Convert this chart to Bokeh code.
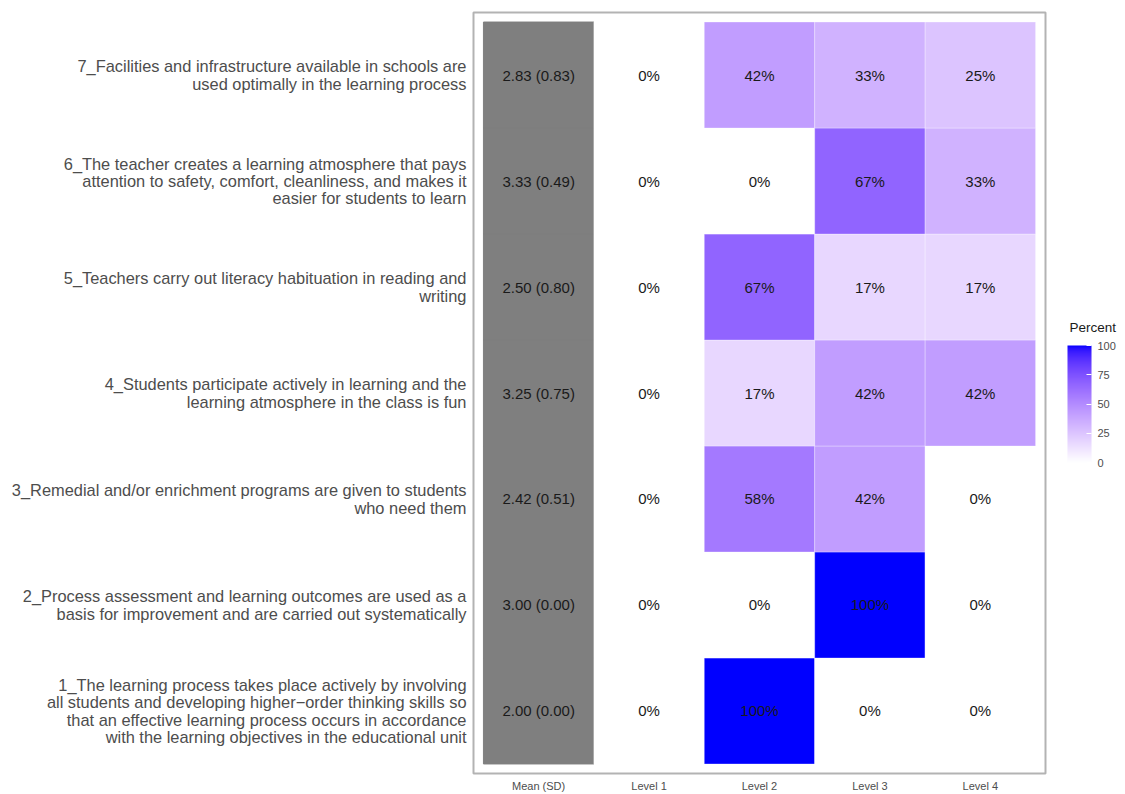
import numpy as np
from bokeh.plotting import figure
from bokeh.layouts import row
from bokeh.models import (ColumnDataSource, Range1d, FixedTicker, LinearColorMapper,
                          ColorBar)
from bokeh.embed import file_html
from bokeh.resources import INLINE

# ---------------- data ----------------
items = [
    "1_The learning process takes place actively by involving\nall students and developing higher\u2212order thinking skills so\nthat an effective learning process occurs in accordance\nwith the learning objectives in the educational unit",
    "2_Process assessment and learning outcomes are used as a\nbasis for improvement and are carried out systematically",
    "3_Remedial and/or enrichment programs are given to students\nwho need them",
    "4_Students participate actively in learning and the\nlearning atmosphere in the class is fun",
    "5_Teachers carry out literacy habituation in reading and\nwriting",
    "6_The teacher creates a learning atmosphere that pays\nattention to safety, comfort, cleanliness, and makes it\neasier for students to learn",
    "7_Facilities and infrastructure available in schools are\nused optimally in the learning process",
]
means = [2.00, 3.00, 2.42, 3.25, 2.50, 3.33, 2.83]
sds = [0.00, 0.00, 0.51, 0.75, 0.80, 0.49, 0.83]
level1 = [0, 0, 0, 0, 0, 0, 0]
level2 = [100, 0, 58, 17, 67, 0, 42]
level3 = [0, 100, 42, 42, 17, 67, 33]
level4 = [0, 0, 0, 42, 17, 33, 25]
columns = ["Mean (SD)", "Level 1", "Level 2", "Level 3", "Level 4"]
legend_title = "Percent"
legend_ticks = [0, 25, 50, 75, 100]

# ---------------- Lab colour interpolation (white -> blue) ----------------
def srgb_to_lab(rgb):
    c = np.array(rgb, dtype=float) / 255.0
    c = np.where(c <= 0.04045, c / 12.92, ((c + 0.055) / 1.055) ** 2.4)
    M = np.array([[0.4124564, 0.3575761, 0.1804375],
                  [0.2126729, 0.7151522, 0.0721750],
                  [0.0193339, 0.1191920, 0.9503041]])
    xyz = M @ c
    wp = np.array([0.95047, 1.0, 1.08883])
    t = xyz / wp
    f = np.where(t > (6 / 29) ** 3, np.cbrt(t), t / (3 * (6 / 29) ** 2) + 4 / 29)
    return np.array([116 * f[1] - 16, 500 * (f[0] - f[1]), 200 * (f[1] - f[2])])

def lab_to_hex(lab):
    L, a, b = lab
    fy = (L + 16) / 116
    fx = fy + a / 500
    fz = fy - b / 200
    def finv(f):
        return f ** 3 if f > 6 / 29 else 3 * (6 / 29) ** 2 * (f - 4 / 29)
    wp = np.array([0.95047, 1.0, 1.08883])
    xyz = np.array([finv(fx), finv(fy), finv(fz)]) * wp
    Minv = np.array([[3.2404542, -1.5371385, -0.4985314],
                     [-0.9692660, 1.8760108, 0.0415560],
                     [0.0556434, -0.2040259, 1.0572252]])
    lin = Minv @ xyz
    lin = np.clip(lin, 0, 1)
    c = np.where(lin <= 0.0031308, 12.92 * lin, 1.055 * lin ** (1 / 2.4) - 0.055)
    c = np.clip(np.round(c * 255), 0, 255).astype(int)
    return "#%02x%02x%02x" % tuple(c)

LAB_LO = srgb_to_lab((255, 255, 255))
LAB_HI = srgb_to_lab((0, 0, 255))

def pct_color(v):
    t = max(0.0, min(1.0, v / 100.0))
    return lab_to_hex(LAB_LO + (LAB_HI - LAB_LO) * t)

palette = [pct_color(100.0 * i / 255) for i in range(256)]

# ---------------- build tile table ----------------
n = len(items)
row_y = [i + 0.5 for i in range(n)]

mean_src = ColumnDataSource(dict(
    x=[0.5] * n, y=row_y,
    label=["%.2f (%.2f)" % (m, s) for m, s in zip(means, sds)],
))

tx, ty, tv, tc, tl = [], [], [], [], []
for j, series in enumerate([level1, level2, level3, level4]):
    for i, v in enumerate(series):
        tx.append(j + 1.5)
        ty.append(row_y[i])
        tv.append(v)
        tc.append(pct_color(v))
        tl.append("%d%%" % v)
lvl_src = ColumnDataSource(dict(x=tx, y=ty, v=tv, color=tc, label=tl))

FONT = "Liberation Sans"

# ---------------- main heatmap figure ----------------
p = figure(width=1047, height=794, output_backend="svg", toolbar_location=None,
           x_range=Range1d(-0.09, 5.09), y_range=Range1d(-0.09, n + 0.09),
           min_border_left=473, min_border_right=2, min_border_top=12,
           min_border_bottom=2)
p.background_fill_color = "white"
p.border_fill_color = "white"
p.outline_line_color = "#b3b3b3"
p.outline_line_width = 2
p.xgrid.visible = False
p.ygrid.visible = False

p.rect(x="x", y="y", width=1, height=1, source=mean_src,
       fill_color="#7f7f7f", line_color="#7f7f7f")
p.rect(x="x", y="y", width=1, height=1, source=lvl_src,
       fill_color="color", line_color="white", line_alpha=0.3, line_width=1)

p.text(x="x", y="y", text="label", source=mean_src, text_align="center",
       text_baseline="middle", text_font_size="15px", text_color="#1a1a1a",
       text_font={"value": FONT})
p.text(x="x", y="y", text="label", source=lvl_src, text_align="center",
       text_baseline="middle", text_font_size="15px", text_color="#1a1a1a",
       text_font={"value": FONT})

# x axis
xa = p.xaxis[0]
xa.ticker = FixedTicker(ticks=[i + 0.5 for i in range(len(columns))])
xa.major_label_overrides = {i + 0.5: c for i, c in enumerate(columns)}
xa.axis_line_color = None
xa.major_tick_line_color = None
xa.minor_tick_line_color = None
xa.major_tick_out = 0
xa.major_tick_in = 0
xa.major_label_standoff = 6
xa.major_label_text_font_size = "11px"
xa.major_label_text_color = "#4d4d4d"
xa.major_label_text_font = FONT

# y axis
ya = p.yaxis[0]
ya.ticker = FixedTicker(ticks=row_y)
ya.major_label_overrides = {row_y[i]: items[i] for i in range(n)}
ya.axis_line_color = None
ya.major_tick_line_color = None
ya.minor_tick_line_color = None
ya.major_tick_out = 0
ya.major_tick_in = 0
ya.major_label_standoff = 7
ya.major_label_text_font_size = "16.4px"
ya.major_label_text_color = "#4d4d4d"
ya.major_label_text_font = FONT
ya.major_label_text_line_height = 0.95

# ---------------- legend figure ----------------
lg = figure(width=78, height=794, output_backend="svg", toolbar_location=None,
            x_range=Range1d(0, 78), y_range=Range1d(0, 794),
            min_border=0, x_axis_location=None, y_axis_location=None)
lg.outline_line_color = None
lg.xgrid.visible = False
lg.ygrid.visible = False
lg.background_fill_color = "white"
lg.border_fill_color = "white"

mapper = LinearColorMapper(palette=palette, low=0, high=100)
cb = ColorBar(color_mapper=mapper, ticker=FixedTicker(ticks=legend_ticks),
              width=24, height=117,
              major_label_text_font_size="11px", major_label_text_color="#4d4d4d",
              major_label_text_font=FONT,
              major_tick_line_color="white", major_tick_in=5, major_tick_out=0,
              label_standoff=6, bar_line_color=None, padding=0, margin=0,
              border_line_color=None, background_fill_color=None,
              location=(20, 311))
lg.add_layout(cb, "center")

title_src = ColumnDataSource(dict(x=[22], y=[465], text=[legend_title]))
lg.text(x="x", y="y", text="text", source=title_src, text_align="left",
        text_baseline="middle", text_font_size="13.5px", text_color="#1a1a1a",
        text_font={"value": FONT})

layout = row(p, lg, spacing=0)
open("out.html", "w").write(file_html(layout, INLINE))
